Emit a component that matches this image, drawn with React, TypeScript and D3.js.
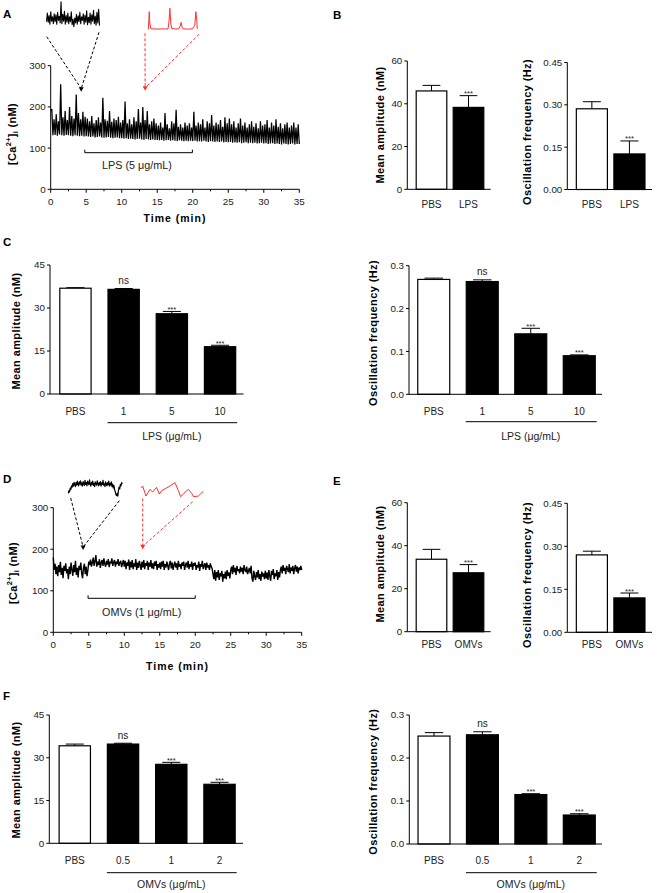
import React from 'react';
import * as d3 from 'd3';

const FONT = "'Liberation Sans', Arial, Helvetica, sans-serif";
const RED = '#ff3030';

// ---------- Panel A: LPS trace ----------
const lpsStep = 0.3125; // minutes between troughs
const lpsTroughs = [
  190, 131, 132, 130, 133, 131, 130, 132, 131, 130, 129, 131, 130, 129, 130, 128,
  129, 128, 127, 128, 126, 127, 128, 126, 125, 126, 127, 125, 124, 125, 126, 124,
  124, 123, 124, 122, 123, 122, 121, 122, 123, 121, 120, 122, 121, 120, 121, 120,
  120, 119, 120, 118, 119, 120, 118, 119, 118, 117, 119, 118, 117, 118, 117, 118,
  117, 118, 116, 117, 116, 118, 116, 115, 117, 116, 115, 116, 115, 116, 114, 115,
  114, 115, 113, 114, 113, 114, 112, 113, 114, 112, 113, 112, 113, 111, 112, 113,
  111, 112, 110, 111, 112, 110, 111, 110, 109, 111, 110, 109, 110, 111, 109, 110,
  110,
];
const lpsPeaks = [
  195, 170, 182, 165, 255, 175, 190, 168, 200, 178, 172, 230, 185, 170, 188, 176,
  172, 165, 178, 160, 168, 175, 162, 222, 170, 166, 190, 164, 172, 168, 176, 162,
  168, 213, 160, 170, 158, 175, 165, 195, 162, 200, 168, 190, 158, 165, 172, 160,
  155, 162, 150, 185, 158, 148, 165, 160, 193, 152, 158, 150, 162, 155, 160, 150,
  188, 155, 162, 158, 170, 150, 165, 160, 180, 155, 162, 158, 168, 152, 175, 160,
  172, 158, 165, 150, 160, 172, 155, 162, 150, 158, 165, 152, 160, 148, 165, 155,
  158, 168, 150, 162, 155, 170, 152, 160, 148, 158, 162, 150, 155, 162, 150, 158,
];

// ---------- Panel D: OMV trace ----------
const omvStep = 0.125;
const omvTrace = [
  180, 150, 165, 140, 158, 135, 162, 145, 170, 138, 155, 130, 160, 148, 166, 142, 152, 128, 158, 140,
  168, 150, 136, 162, 145, 172, 138, 155, 132, 160, 150, 168, 142, 130, 155, 165, 140, 158, 135, 150,
  170, 162, 175, 158, 168, 180, 160, 172, 186, 158, 170, 162, 176, 155, 168, 174, 160, 178, 165, 158,
  172, 163, 176, 157, 170, 166, 178, 160, 168, 174, 158, 170, 164, 176, 160, 168, 172, 157, 166, 174,
  158, 172, 152, 168, 160, 175, 150, 170, 156, 174, 152, 166, 158, 176, 150, 168, 155, 172, 162, 150,
  170, 156, 174, 152, 166, 160, 172, 150, 168, 158, 174, 154, 166, 152, 170, 160, 172, 150, 164, 156,
  168, 152, 170, 158, 172, 150, 164, 156, 170, 160, 150, 166, 172, 154, 168, 150, 162, 170, 156, 166,
  150, 172, 158, 164, 152, 168, 160, 170, 150, 162, 168, 156, 172, 152, 164, 158, 170, 150, 166, 160,
  168, 150, 162, 156, 170, 148, 164, 158, 172, 152, 160, 166, 150, 168, 156, 162, 150, 166, 158, 154,
  140, 128, 150, 124, 145, 132, 150, 126, 142, 135, 148, 122, 140, 130, 146, 128, 150, 136, 144, 130,
  150, 158, 140, 162, 145, 155, 138, 160, 148, 152, 142, 158, 146, 155, 140, 162, 150, 145, 158, 140,
  148, 155, 142, 160, 130, 122, 148, 135, 126, 145, 132, 150, 128, 140, 124, 146, 134, 142, 128, 148,
  130, 144, 126, 150, 136, 124, 148, 138, 152, 128, 142, 135, 150, 126, 145, 132, 150, 158, 142, 162,
  148, 155, 140, 160, 152, 145, 164, 142, 156, 148, 160, 140, 154, 162, 146, 158, 142, 156, 150, 160,
  150,
];

// ---------- insets (relative units 0-100) ----------
const lpsInsetBlack = [
  20, 55, 18, 45, 10, 60, 22, 40, 12, 52, 20, 48, 10, 58, 25, 42, 15, 100, 12, 50, 22, 62, 10, 45, 18, 55, 12, 40, 20, 60, 8, 30, 0,
  35, 15, 50, 10, 44, 20, 58, 12, 40, 25, 52, 10, 46, 18, 64, 8, 38, 16, 55, 10, 48, 22, 66, 12, 42, 6, 58, 15, 70, 5,
];
const lpsInsetRed: [number, number][] = [
  [0, 0], [1, 40], [2, 84], [3, 30], [5, 4], [10, 2], [20, 1], [30, 2], [40, 1], [42, 30], [44, 100], [46, 25], [48, 4],
  [55, 2], [62, 2], [65, 15], [67, 33], [69, 10], [71, 2], [80, 1], [90, 2], [95, 20], [97, 84], [99, 40], [100, 2],
];
const omvInsetBlack = [
  20, 35, 28, 50, 42, 62, 55, 75, 60, 82, 68, 58, 80, 66, 88, 70, 62, 84, 72, 90,
  66, 78, 60, 86, 74, 64, 92, 70, 80, 62, 88, 76, 68, 95, 72, 60, 82, 70, 88, 64,
  76, 58, 84, 72, 66, 90, 74, 62, 80, 68, 86, 60, 78, 70, 92, 66, 74, 58, 84, 70,
  62, 80, 68, 88, 60, 76, 66, 84, 58, 72, 50, 64, 40, 30, 15, 8, 20, 5, 35, 55,
  45, 70, 62, 80, 72,
];
const omvInsetRed: [number, number][] = [
  [0, 60], [2.7, 72], [8, 8], [14.4, 51], [18.7, 34], [25, 64], [29.4, 21], [33, 42], [40, 58], [46.5, 72], [54.5, 94],
  [60, 42], [63.6, 4], [69, 26], [76, 51], [81.3, 26], [84, 4], [92, 8], [97.3, 29], [100, 36],
];

const timeTicks = [0, 5, 10, 15, 20, 25, 30, 35];
const timeMinor = [2.5, 7.5, 12.5, 17.5, 22.5, 27.5, 32.5];
const caTicks = [0, 100, 200, 300];

// ---------- bar data ----------
const catsLPS2 = ['PBS', 'LPS'];
const catsOMV2 = ['PBS', 'OMVs'];
const catsLPS4 = ['PBS', '1', '5', '10'];
const catsOMV4 = ['PBS', '0.5', '1', '2'];

const ampB = [46, 38.3];
const ampBErr = [2.6, 5.5];
const freqB = [0.286, 0.126];
const freqBErr = [0.025, 0.046];
const sigB = ['', '***'];

const ampC = [36.9, 36.5, 28.0, 16.5];
const ampCErr = [0.2, 0.3, 0.8, 0.5];
const freqC = [0.268, 0.263, 0.141, 0.09];
const freqCErr = [0.003, 0.004, 0.013, 0.002];
const sig4 = ['', 'ns', '***', '***'];

const ampE = [33.7, 27.4];
const ampEErr = [4.6, 3.8];
const freqE = [0.27, 0.12];
const freqEErr = [0.013, 0.017];

const ampF = [34.2, 34.8, 27.7, 20.7];
const ampFErr = [0.6, 0.3, 0.7, 0.7];
const freqF = [0.251, 0.254, 0.115, 0.0674];
const freqFErr = [0.008, 0.007, 0.002, 0.003];

const ampTicks2 = [0, 20, 40, 60];
const freqTicks2 = [0, 0.15, 0.3, 0.45];
const ampTicks4 = [0, 15, 30, 45];
const freqTicks4 = [0, 0.1, 0.2, 0.3];

const TICK_FS = 9.8;
const TICK_FILL = '#222';

// ---------- components ----------
function YTitle({ x, cy, text }: { x: number; cy: number; text: string }) {
  return (
    <text
      transform={`translate(${x},${cy}) rotate(-90)`}
      textAnchor="middle"
      dominantBaseline="central"
      fontSize={11}
      fontWeight="bold"
      letterSpacing={0.4}
      fill="#000"
    >
      {text}
    </text>
  );
}

type BarCfg = {
  axisX: number; endX: number; y0: number; y1: number; max: number; ticks: number[]; fmt: string;
  cats: string[]; vals: number[]; errs: number[]; sig: string[]; pi: number; po: number;
  title: string; titleX: number; titleCY: number; labelY: number;
  bracket?: { y: number; label: string; labelY: number };
};

function BarChart({ c }: { c: BarCfg }) {
  const x = d3.scaleBand<string>().domain(c.cats).range([c.axisX, c.endX]).paddingInner(c.pi).paddingOuter(c.po);
  const y = d3.scaleLinear().domain([0, c.max]).range([c.y0, c.y1]);
  const f = d3.format(c.fmt);
  const bw = x.bandwidth();
  return (
    <g>
      {c.cats.map((k, i) => {
        const bx = x(k)!;
        const top = y(c.vals[i]);
        const et = y(c.vals[i] + c.errs[i]);
        const cx = bx + bw / 2;
        const cap = bw * 0.28;
        return (
          <g key={k}>
            <line x1={cx} x2={cx} y1={top} y2={et} stroke="#000" strokeWidth={1} />
            <line x1={cx - cap} x2={cx + cap} y1={et} y2={et} stroke="#000" strokeWidth={1} />
            <rect
              x={bx + 0.5}
              y={top}
              width={bw - 1}
              height={c.y0 - top}
              fill={i === 0 ? '#fff' : '#000'}
              stroke="#000"
              strokeWidth={1.2}
            />
            <text x={cx} y={c.labelY} textAnchor="middle" fontSize={10} fill={TICK_FILL}>{k}</text>
            {c.sig[i] === '***' && (
              <text x={cx} y={et + 0.5} textAnchor="middle" fontSize={7.5} fill="#222">***</text>
            )}
            {c.sig[i] === 'ns' && (
              <text x={cx} y={et - 4.5} textAnchor="middle" fontSize={10} fill="#222">ns</text>
            )}
          </g>
        );
      })}
      <line x1={c.axisX} x2={c.axisX} y1={c.y0} y2={y(c.max)} stroke="#000" strokeWidth={1} />
      <line x1={c.axisX} x2={c.endX - 2} y1={c.y0} y2={c.y0} stroke="#000" strokeWidth={1} />
      {c.ticks.map((t) => (
        <g key={t}>
          <line x1={c.axisX - 3} x2={c.axisX} y1={y(t)} y2={y(t)} stroke="#000" strokeWidth={1} />
          <text x={c.axisX - 5} y={y(t) + 3.4} textAnchor="end" fontSize={TICK_FS} fill={TICK_FILL}>{f(t)}</text>
        </g>
      ))}
      <YTitle x={c.titleX} cy={c.titleCY} text={c.title} />
      {c.bracket && (
        <g>
          <line
            x1={x(c.cats[1])!}
            x2={x(c.cats[c.cats.length - 1])! + bw + 1}
            y1={c.bracket.y}
            y2={c.bracket.y}
            stroke="#000"
            strokeWidth={1}
          />
          <text
            x={(x(c.cats[1])! + x(c.cats[c.cats.length - 1])! + bw) / 2}
            y={c.bracket.labelY}
            textAnchor="middle"
            fontSize={10.5}
            fill={TICK_FILL}
          >
            {c.bracket.label}
          </text>
        </g>
      )}
    </g>
  );
}

type InsetCfg = { x0: number; x1: number; yb: number; yt: number; color: string; pts: [number, number][]; sw: number };

function Inset({ c }: { c: InsetCfg }) {
  const ext = d3.extent(c.pts, (d) => d[0]) as [number, number];
  const xs = d3.scaleLinear().domain(ext).range([c.x0, c.x1]);
  const ys = d3.scaleLinear().domain([0, 100]).range([c.yb, c.yt]);
  const line = d3.line<[number, number]>().x((d) => xs(d[0])).y((d) => ys(d[1]));
  return <path d={line(c.pts)!} fill="none" stroke={c.color} strokeWidth={c.sw} strokeLinejoin="round" />;
}

type ArrowCfg = { s1: [number, number]; s2: [number, number]; tip: [number, number]; color: string };

type TraceCfg = {
  x0: number; x1: number; y0: number; y1: number;
  pts: [number, number][]; sw: number;
  titleX: number; titleCY: number; timeTitleY: number; tickLabelY: number;
  bracket: [number, number]; brY: number; brLabel: string; brLabelX: number; brLabelY: number;
  insets: InsetCfg[]; arrows: ArrowCfg[];
};

function TracePanel({ c }: { c: TraceCfg }) {
  const x = d3.scaleLinear().domain([0, 35]).range([c.x0, c.x1]);
  const y = d3.scaleLinear().domain([0, 300]).range([c.y0, c.y1]);
  const line = d3.line<[number, number]>().x((d) => x(d[0])).y((d) => y(d[1]));
  return (
    <g>
      <path d={line(c.pts)!} fill="none" stroke="#000" strokeWidth={c.sw} strokeLinejoin="bevel" />
      <line x1={x(0)} x2={x(0)} y1={y(0)} y2={y(300)} stroke="#000" strokeWidth={1} />
      <line x1={x(0)} x2={x(35)} y1={y(0)} y2={y(0)} stroke="#000" strokeWidth={1} />
      {caTicks.map((t) => (
        <g key={t}>
          <line x1={x(0) - 3} x2={x(0)} y1={y(t)} y2={y(t)} stroke="#000" />
          <text x={x(0) - 5} y={y(t) + 3.4} textAnchor="end" fontSize={TICK_FS} fill={TICK_FILL}>{t}</text>
        </g>
      ))}
      {timeTicks.map((t) => (
        <g key={t}>
          <line x1={x(t)} x2={x(t)} y1={y(0)} y2={y(0) + 3.5} stroke="#000" />
          <text x={x(t)} y={c.tickLabelY} textAnchor="middle" fontSize={TICK_FS} fill={TICK_FILL}>{t}</text>
        </g>
      ))}
      {timeMinor.map((t) => (
        <line key={t} x1={x(t)} x2={x(t)} y1={y(0)} y2={y(0) + 2} stroke="#000" />
      ))}
      <text x={(x(0) + x(35)) / 2} y={c.timeTitleY} textAnchor="middle" fontSize={10.5} fontWeight="bold" letterSpacing={1}>
        Time (min)
      </text>
      <text
        transform={`translate(${c.titleX},${c.titleCY}) rotate(-90)`}
        textAnchor="middle"
        dominantBaseline="central"
        fontSize={11}
        fontWeight="bold"
        letterSpacing={0.3}
      >
        <tspan>[Ca</tspan>
        <tspan dy={-4} fontSize={7.5}>2+</tspan>
        <tspan dy={4}>]</tspan>
        <tspan dy={2.5} fontSize={7.5}>i</tspan>
        <tspan dy={-2.5}> (nM)</tspan>
      </text>
      <line x1={x(c.bracket[0])} x2={x(c.bracket[1])} y1={c.brY} y2={c.brY} stroke="#000" strokeWidth={1} />
      <line x1={x(c.bracket[0])} x2={x(c.bracket[0])} y1={c.brY} y2={c.brY - 3} stroke="#000" strokeWidth={1} />
      <line x1={x(c.bracket[1])} x2={x(c.bracket[1])} y1={c.brY} y2={c.brY - 3} stroke="#000" strokeWidth={1} />
      <text x={c.brLabelX} y={c.brLabelY} textAnchor="middle" fontSize={10.8} fill={TICK_FILL}>{c.brLabel}</text>
      {c.insets.map((ins, i) => <Inset key={i} c={ins} />)}
      {c.arrows.map((a, i) => {
        const tx = x(a.tip[0]);
        const ty = y(a.tip[1]);
        return (
          <g key={i}>
            <line x1={a.s1[0]} y1={a.s1[1]} x2={tx} y2={ty - 3} stroke={a.color} strokeWidth={1} strokeDasharray="3,2" />
            <line x1={a.s2[0]} y1={a.s2[1]} x2={tx} y2={ty - 3} stroke={a.color} strokeWidth={1} strokeDasharray="3,2" />
            <path d={`M${tx - 2.5},${ty - 4.5}L${tx + 2.5},${ty - 4.5}L${tx},${ty}Z`} fill={a.color} />
          </g>
        );
      })}
    </g>
  );
}

function buildLps(): [number, number][] {
  const pts: [number, number][] = [];
  lpsTroughs.forEach((v, k) => {
    pts.push([k * lpsStep, v]);
    if (k < lpsPeaks.length) pts.push([k * lpsStep + lpsStep / 2, lpsPeaks[k]]);
  });
  return pts;
}

const toPairs = (arr: number[]): [number, number][] => arr.map((v, i) => [i, v]);

export default function App() {
  const panelA: TraceCfg = {
    x0: 50.7, x1: 299.3, y0: 189.3, y1: 65.7,
    pts: buildLps(), sw: 1.25,
    titleX: 12, titleCY: 134, timeTitleY: 222, tickLabelY: 204.5,
    bracket: [4.8, 19.95], brY: 152.7, brLabel: 'LPS (5 μg/mL)', brLabelX: 137, brLabelY: 169,
    insets: [
      { x0: 46.5, x1: 99.5, yb: 26.7, yt: 1.7, color: '#000', pts: toPairs(lpsInsetBlack), sw: 1.1 },
      { x0: 148.3, x1: 197.3, yb: 29.3, yt: 8.3, color: RED, pts: lpsInsetRed, sw: 1 },
    ],
    arrows: [
      { s1: [46.7, 36.7], s2: [99, 32.3], tip: [4.3, 237], color: '#000' },
      { s1: [145, 33.3], s2: [199, 34.3], tip: [13.3, 239], color: RED },
    ],
  };
  const panelD: TraceCfg = {
    x0: 53.3, x1: 301.7, y0: 632.3, y1: 507.7,
    pts: omvTrace.map((v, i) => [i * omvStep, v] as [number, number]), sw: 1.4,
    titleX: 13, titleCY: 573, timeTitleY: 670, tickLabelY: 647.5,
    bracket: [4.9, 20], brY: 598.3, brLabel: 'OMVs (1 μg/mL)', brLabelX: 141.7, brLabelY: 615.5,
    insets: [
      { x0: 68.3, x1: 122.3, yb: 497, yt: 479, color: '#000', pts: toPairs(omvInsetBlack), sw: 1.2 },
      { x0: 141, x1: 203.3, yb: 497.3, yt: 481.7, color: RED, pts: omvInsetRed, sw: 1 },
    ],
    arrows: [
      { s1: [70.7, 498], s2: [119.3, 500.7], tip: [4.2, 198], color: '#000' },
      { s1: [142.7, 498.5], s2: [192.7, 501.7], tip: [12.6, 200], color: RED },
    ],
  };

  const charts: BarCfg[] = [
    { axisX: 407.3, endX: 492.7, y0: 189.3, y1: 61, max: 60, ticks: ampTicks2, fmt: 'd', cats: catsLPS2, vals: ampB, errs: ampBErr, sig: sigB, pi: 0.146, po: 0.227, title: 'Mean amplitude (nM)', titleX: 380, titleCY: 125, labelY: 207.5 },
    { axisX: 567.3, endX: 654, y0: 189.5, y1: 62.5, max: 0.45, ticks: freqTicks2, fmt: '.2f', cats: catsLPS2, vals: freqB, errs: freqBErr, sig: sigB, pi: 0.146, po: 0.227, title: 'Oscillation frequency (Hz)', titleX: 526.7, titleCY: 132, labelY: 207.5 },
    { axisX: 50, endX: 245.5, y0: 394, y1: 265, max: 45, ticks: ampTicks4, fmt: 'd', cats: catsLPS4, vals: ampC, errs: ampCErr, sig: sig4, pi: 0.33, po: 0.193, title: 'Mean amplitude (nM)', titleX: 16, titleCY: 331, labelY: 415, bracket: { y: 422.7, label: 'LPS (μg/mL)', labelY: 440 } },
    { axisX: 409, endX: 604, y0: 394.3, y1: 265.7, max: 0.3, ticks: freqTicks4, fmt: '.1f', cats: catsLPS4, vals: freqC, errs: freqCErr, sig: sig4, pi: 0.32, po: 0.17, title: 'Oscillation frequency (Hz)', titleX: 373, titleCY: 333, labelY: 415, bracket: { y: 421.7, label: 'LPS (μg/mL)', labelY: 440 } },
    { axisX: 407.3, endX: 492.7, y0: 631.7, y1: 502.7, max: 60, ticks: ampTicks2, fmt: 'd', cats: catsOMV2, vals: ampE, errs: ampEErr, sig: sigB, pi: 0.146, po: 0.227, title: 'Mean amplitude (nM)', titleX: 380, titleCY: 564, labelY: 647.5 },
    { axisX: 567.3, endX: 654, y0: 632.3, y1: 503.3, max: 0.45, ticks: freqTicks2, fmt: '.2f', cats: catsOMV2, vals: freqE, errs: freqEErr, sig: sigB, pi: 0.146, po: 0.227, title: 'Oscillation frequency (Hz)', titleX: 526.7, titleCY: 575, labelY: 647.5 },
    { axisX: 49.3, endX: 245, y0: 843.3, y1: 715, max: 45, ticks: ampTicks4, fmt: 'd', cats: catsOMV4, vals: ampF, errs: ampFErr, sig: sig4, pi: 0.33, po: 0.193, title: 'Mean amplitude (nM)', titleX: 16, titleCY: 780, labelY: 863.5, bracket: { y: 872.7, label: 'OMVs (μg/mL)', labelY: 887.5 } },
    { axisX: 409.3, endX: 604, y0: 844, y1: 715, max: 0.3, ticks: freqTicks4, fmt: '.1f', cats: catsOMV4, vals: freqF, errs: freqFErr, sig: sig4, pi: 0.32, po: 0.17, title: 'Oscillation frequency (Hz)', titleX: 373, titleCY: 781.7, labelY: 863.5, bracket: { y: 872.7, label: 'OMVs (μg/mL)', labelY: 887.5 } },
  ];

  const letters: [string, number, number][] = [
    ['A', 3, 18.3], ['B', 333, 19.3], ['C', 3, 246], ['D', 3, 483.3], ['E', 333, 485], ['F', 3, 700],
  ];

  return (
    <svg
      width={660}
      height={893}
      style={{ position: 'absolute', left: 0, top: 0, display: 'block' }}
      fontFamily={FONT}
    >
      <rect width={660} height={893} fill="#fff" />
      <TracePanel c={panelA} />
      <TracePanel c={panelD} />
      {charts.map((c, i) => <BarChart key={i} c={c} />)}
      {letters.map(([l, x, y]) => (
        <text key={l} x={x} y={y} fontSize={11.5} fontWeight="bold">{l}</text>
      ))}
    </svg>
  );
}
